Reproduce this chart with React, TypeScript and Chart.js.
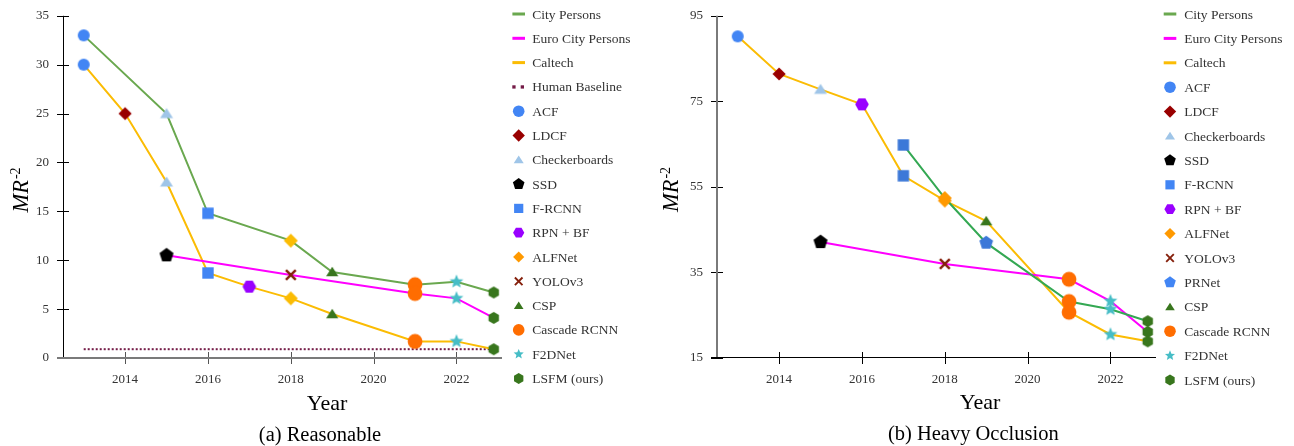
import React, { useEffect, useRef } from 'react';
import { Chart, registerables } from 'chart.js';

Chart.register(...registerables);

// ---------------- data ----------------
const yearTicks = [2014, 2016, 2018, 2020, 2022];

// (a) Reasonable
const aCityYears = [2013, 2015, 2016, 2018, 2019, 2021, 2022, 2022.9];
const aCityValues = [33, 25, 14.8, 12, 8.8, 7.5, 7.8, 6.7];
const aCityMethods = ['ACF', 'Checkerboards', 'F-RCNN', 'ALFNet', 'CSP', 'Cascade RCNN', 'F2DNet', 'LSFM (ours)'];

const aEuroYears = [2015, 2018, 2021, 2022, 2022.9];
const aEuroValues = [10.5, 8.5, 6.6, 6.1, 4.1];
const aEuroMethods = ['SSD', 'YOLOv3', 'Cascade RCNN', 'F2DNet', 'LSFM (ours)'];

const aCaltechYears = [2013, 2014, 2015, 2016, 2017, 2018, 2019, 2021, 2022, 2022.9];
const aCaltechValues = [30, 25, 18, 8.7, 7.3, 6.1, 4.5, 1.7, 1.7, 0.9];
const aCaltechMethods = ['ACF', 'LDCF', 'Checkerboards', 'F-RCNN', 'RPN + BF', 'ALFNet', 'CSP', 'Cascade RCNN', 'F2DNet', 'LSFM (ours)'];

const aHumanYears = [2013, 2023];
const aHumanValues = [0.9, 0.9];

const aMethods = ['ACF', 'LDCF', 'Checkerboards', 'SSD', 'F-RCNN', 'RPN + BF', 'ALFNet', 'YOLOv3', 'CSP', 'Cascade RCNN', 'F2DNet', 'LSFM (ours)'];
const aYMin = 0, aYMax = 35, aYStep = 5;

// (b) Heavy Occlusion
const bCityYears = [2017, 2018, 2019, 2021, 2022, 2022.9];
const bCityValues = [64.8, 52.4, 41.9, 28.2, 26.4, 23.6];
const bCityMethods = ['F-RCNN', 'ALFNet', 'PRNet', 'Cascade RCNN', 'F2DNet', 'LSFM (ours)'];

const bEuroYears = [2015, 2018, 2021, 2022, 2022.9];
const bEuroValues = [42.1, 37, 33.4, 28.3, 21.1];
const bEuroMethods = ['SSD', 'YOLOv3', 'Cascade RCNN', 'F2DNet', 'LSFM (ours)'];

const bCaltechYears = [2013, 2014, 2015, 2016, 2017, 2018, 2019, 2021, 2022, 2022.9];
const bCaltechValues = [90.2, 81.4, 77.8, 74.3, 57.6, 51.8, 47, 25.7, 20.5, 18.9];
const bCaltechMethods = ['ACF', 'LDCF', 'Checkerboards', 'RPN + BF', 'F-RCNN', 'ALFNet', 'CSP', 'Cascade RCNN', 'F2DNet', 'LSFM (ours)'];

const bMethods = ['ACF', 'LDCF', 'Checkerboards', 'SSD', 'F-RCNN', 'RPN + BF', 'ALFNet', 'YOLOv3', 'PRNet', 'CSP', 'Cascade RCNN', 'F2DNet', 'LSFM (ours)'];
const bYMin = 15, bYMax = 95, bYStep = 20;

// ---------------- styles ----------------
const SERIF = '"Liberation Serif", "Times New Roman", serif';

type Shape = 'circle' | 'diamond' | 'triangle' | 'pentagon' | 'square' | 'hexFlat' | 'hexPointy' | 'x' | 'star';

const MARKERS: Record<string, { shape: Shape; size: number; legendSize: number; colorA: string; colorB: string; legend: string }> = {
  'ACF': { shape: 'circle', size: 6, legendSize: 5.8, colorA: '#4285f4', colorB: '#4285f4', legend: '#4285f4' },
  'LDCF': { shape: 'diamond', size: 6.6, legendSize: 6.2, colorA: '#990000', colorB: '#990000', legend: '#990000' },
  'Checkerboards': { shape: 'triangle', size: 6.5, legendSize: 5, colorA: '#9fc5e8', colorB: '#9fc5e8', legend: '#9fc5e8' },
  'SSD': { shape: 'pentagon', size: 7.4, legendSize: 6.1, colorA: '#000000', colorB: '#000000', legend: '#000000' },
  'F-RCNN': { shape: 'square', size: 5.7, legendSize: 4.6, colorA: '#4285f4', colorB: '#3c78d8', legend: '#4285f4' },
  'RPN + BF': { shape: 'hexFlat', size: 6.8, legendSize: 5.6, colorA: '#9900ff', colorB: '#9900ff', legend: '#9900ff' },
  'ALFNet': { shape: 'diamond', size: 7, legendSize: 5.6, colorA: '#fbbc04', colorB: '#ff9900', legend: '#ff9900' },
  'YOLOv3': { shape: 'x', size: 4.9, legendSize: 3.8, colorA: '#85200c', colorB: '#85200c', legend: '#85200c' },
  'PRNet': { shape: 'pentagon', size: 7.2, legendSize: 6.1, colorA: '#3c78d8', colorB: '#3c78d8', legend: '#4285f4' },
  'CSP': { shape: 'triangle', size: 6.1, legendSize: 4.8, colorA: '#38761d', colorB: '#38761d', legend: '#38761d' },
  'Cascade RCNN': { shape: 'circle', size: 7.4, legendSize: 5.8, colorA: '#ff6d01', colorB: '#ff6d01', legend: '#ff6d01' },
  'F2DNet': { shape: 'star', size: 7.2, legendSize: 5.3, colorA: '#46bdc6', colorB: '#46bdc6', legend: '#46bdc6' },
  'LSFM (ours)': { shape: 'hexPointy', size: 6, legendSize: 5.4, colorA: '#38761d', colorB: '#38761d', legend: '#38761d' },
};

function drawShape(ctx: CanvasRenderingContext2D, shape: Shape, color: string, s: number, cx: number, cy: number) {
  ctx.save();
  ctx.fillStyle = color;
  ctx.strokeStyle = color;
  ctx.beginPath();
  const poly = (n: number, startDeg: number, r: number) => {
    for (let i = 0; i < n; i++) {
      const a = ((startDeg + (360 / n) * i) * Math.PI) / 180;
      const px = cx + r * Math.cos(a);
      const py = cy + r * Math.sin(a);
      if (i === 0) ctx.moveTo(px, py);
      else ctx.lineTo(px, py);
    }
    ctx.closePath();
    ctx.fill();
  };
  switch (shape) {
    case 'circle':
      ctx.arc(cx, cy, s, 0, Math.PI * 2);
      ctx.fill();
      break;
    case 'square':
      ctx.fillRect(cx - s, cy - s, 2 * s, 2 * s);
      break;
    case 'diamond':
      ctx.moveTo(cx, cy - s);
      ctx.lineTo(cx + s, cy);
      ctx.lineTo(cx, cy + s);
      ctx.lineTo(cx - s, cy);
      ctx.closePath();
      ctx.fill();
      break;
    case 'triangle':
      ctx.moveTo(cx, cy - 0.85 * s);
      ctx.lineTo(cx + s, cy + 0.7 * s);
      ctx.lineTo(cx - s, cy + 0.7 * s);
      ctx.closePath();
      ctx.fill();
      break;
    case 'pentagon':
      poly(5, -90, s);
      break;
    case 'hexFlat':
      poly(6, 0, s);
      break;
    case 'hexPointy':
      poly(6, -90, s);
      break;
    case 'star': {
      for (let i = 0; i < 10; i++) {
        const r = i % 2 === 0 ? s : s * 0.45;
        const a = ((-90 + 36 * i) * Math.PI) / 180;
        const px = cx + r * Math.cos(a);
        const py = cy + r * Math.sin(a);
        if (i === 0) ctx.moveTo(px, py);
        else ctx.lineTo(px, py);
      }
      ctx.closePath();
      ctx.fill();
      break;
    }
    case 'x':
      ctx.lineWidth = Math.max(1.6, s * 0.5);
      ctx.moveTo(cx - s, cy - s);
      ctx.lineTo(cx + s, cy + s);
      ctx.moveTo(cx + s, cy - s);
      ctx.lineTo(cx - s, cy + s);
      ctx.stroke();
      break;
  }
  ctx.restore();
}

function markerCanvas(shape: Shape, color: string, s: number): HTMLCanvasElement {
  const c = document.createElement('canvas');
  c.width = 28;
  c.height = 28;
  const ctx = c.getContext('2d') as CanvasRenderingContext2D;
  drawShape(ctx, shape, color, s, 14, 14);
  return c;
}

type Series = { label: string; years: number[]; values: number[]; methods?: string[]; color: string; legendColor: string; dash?: number[]; kind: 'line' | 'dots' };

type Panel = {
  key: 'A' | 'B';
  series: Series[];
  methods: string[];
  yMin: number; yMax: number; yStep: number;
  yWidth: number; padRight: number;
  axis: { yColor: string; yW: number; xColor: string; xW: number; yTick: string; xTick: string };
  yLabelX: number; yLabelCY: number;
  yearCX: number; yearY: number;
  caption: string; captionCX: number; captionY: number;
  legendMX: number; legendTX: number; legendY0: number; legendStep: number;
};

const panelA: Panel = {
  key: 'A',
  series: [
    { label: 'City Persons', years: aCityYears, values: aCityValues, methods: aCityMethods, color: '#6aa84f', legendColor: '#6aa84f', kind: 'line' },
    { label: 'Euro City Persons', years: aEuroYears, values: aEuroValues, methods: aEuroMethods, color: '#ff00ff', legendColor: '#ff00ff', kind: 'line' },
    { label: 'Caltech', years: aCaltechYears, values: aCaltechValues, methods: aCaltechMethods, color: '#fbbc04', legendColor: '#fbbc04', kind: 'line' },
    { label: 'Human Baseline', years: aHumanYears, values: aHumanValues, color: '#741b47', legendColor: '#741b47', dash: [2, 2], kind: 'dots' },
  ],
  methods: aMethods,
  yMin: aYMin, yMax: aYMax, yStep: aYStep,
  yWidth: 63, padRight: 145,
  axis: { yColor: '#000000', yW: 1, xColor: '#7a7a7a', xW: 2, yTick: '#000000', xTick: '#555555' },
  yLabelX: 28, yLabelCY: 190,
  yearCX: 327, yearY: 410,
  caption: '(a) Reasonable', captionCX: 320, captionY: 440.5,
  legendMX: 518.7, legendTX: 532.3, legendY0: 14, legendStep: 24.3,
};

const panelB: Panel = {
  key: 'B',
  series: [
    { label: 'City Persons', years: bCityYears, values: bCityValues, methods: bCityMethods, color: '#34a853', legendColor: '#6aa84f', kind: 'line' },
    { label: 'Euro City Persons', years: bEuroYears, values: bEuroValues, methods: bEuroMethods, color: '#ff00ff', legendColor: '#ff00ff', kind: 'line' },
    { label: 'Caltech', years: bCaltechYears, values: bCaltechValues, methods: bCaltechMethods, color: '#fbbc04', legendColor: '#fbbc04', kind: 'line' },
  ],
  methods: bMethods,
  yMin: bYMin, yMax: bYMax, yStep: bYStep,
  yWidth: 70, padRight: 138,
  axis: { yColor: '#7a7a7a', yW: 2, xColor: '#000000', xW: 1, yTick: '#000000', xTick: '#000000' },
  yLabelX: 31.3, yLabelCY: 189.5,
  yearCX: 333, yearY: 408.5,
  caption: '(b) Heavy Occlusion', captionCX: 326.3, captionY: 440,
  legendMX: 523, legendTX: 537.3, legendY0: 14, legendStep: 24.4,
};

function makePlugin(p: Panel) {
  return {
    id: 'decor' + p.key,
    beforeDatasetsDraw(chart: any) {
      const { ctx, chartArea } = chart;
      const { left, right, top, bottom } = chartArea;
      const xs = chart.scales.x;
      const ys = chart.scales.y;
      const a = p.axis;
      ctx.save();
      ctx.lineCap = 'butt';
      // tick marks crossing the axes
      ctx.strokeStyle = a.yTick;
      ctx.lineWidth = 1;
      ys.ticks.forEach((t: any) => {
        const py = Math.round(ys.getPixelForValue(t.value)) + 0.5;
        ctx.beginPath();
        ctx.moveTo(left - 6, py);
        ctx.lineTo(left + 6, py);
        ctx.stroke();
      });
      ctx.strokeStyle = a.xTick;
      xs.ticks.forEach((t: any) => {
        const px = Math.round(xs.getPixelForValue(t.value)) + 0.5;
        ctx.beginPath();
        ctx.moveTo(px, bottom - 6);
        ctx.lineTo(px, bottom + 6);
        ctx.stroke();
      });
      // y axis line
      ctx.strokeStyle = a.yColor;
      ctx.lineWidth = a.yW;
      const ax = a.yW % 2 ? Math.round(left) + 0.5 : Math.round(left);
      ctx.beginPath();
      ctx.moveTo(ax, top);
      ctx.lineTo(ax, bottom);
      ctx.stroke();
      // x axis line
      ctx.strokeStyle = a.xColor;
      ctx.lineWidth = a.xW;
      const ay = a.xW % 2 ? Math.round(bottom) - 0.5 : Math.round(bottom);
      ctx.beginPath();
      ctx.moveTo(left - 6, ay);
      ctx.lineTo(right, ay);
      ctx.stroke();
      ctx.restore();
    },
    afterDraw(chart: any) {
      const ctx: CanvasRenderingContext2D = chart.ctx;
      ctx.save();
      // y axis title  MR^-2
      ctx.translate(p.yLabelX, p.yLabelCY);
      ctx.rotate(-Math.PI / 2);
      ctx.fillStyle = '#000';
      ctx.textAlign = 'left';
      ctx.textBaseline = 'alphabetic';
      ctx.font = `italic 22.5px ${SERIF}`;
      const w1 = ctx.measureText('MR').width;
      ctx.font = `14px ${SERIF}`;
      const w2 = ctx.measureText('-2').width;
      const total = w1 + 1 + w2;
      ctx.font = `italic 22.5px ${SERIF}`;
      ctx.fillText('MR', -total / 2, 0);
      ctx.font = `14px ${SERIF}`;
      ctx.fillText('-2', -total / 2 + w1 + 1, -8);
      ctx.restore();

      ctx.save();
      ctx.fillStyle = '#000';
      ctx.textAlign = 'center';
      ctx.textBaseline = 'alphabetic';
      ctx.font = `22px ${SERIF}`;
      ctx.fillText('Year', p.yearCX, p.yearY);
      ctx.font = `20.5px ${SERIF}`;
      ctx.fillText(p.caption, p.captionCX, p.captionY);
      ctx.restore();

      // legend
      ctx.save();
      ctx.font = `13.5px ${SERIF}`;
      ctx.textAlign = 'left';
      ctx.textBaseline = 'alphabetic';
      let row = 0;
      const mx = p.legendMX;
      p.series.forEach((s) => {
        const y = p.legendY0 + row * p.legendStep;
        ctx.fillStyle = s.legendColor;
        if (s.kind === 'dots') {
          ctx.fillRect(mx - 6.4, y - 1.6, 3.3, 3.3);
          ctx.fillRect(mx + 2, y - 1.6, 3.3, 3.3);
        } else {
          ctx.fillRect(mx - 6.3, y - 1.5, 12.6, 3);
        }
        ctx.fillStyle = '#333';
        ctx.fillText(s.label, p.legendTX, y + 4.5);
        row++;
      });
      p.methods.forEach((m) => {
        const y = p.legendY0 + row * p.legendStep;
        const st = MARKERS[m];
        drawShape(ctx, st.shape, st.legend, st.legendSize, mx, y);
        ctx.fillStyle = '#333';
        ctx.fillText(m, p.legendTX, y + 4.5);
        row++;
      });
      ctx.restore();
    },
  };
}

function buildConfig(p: Panel): any {
  const datasets: any[] = [];
  p.series.forEach((s) => {
    datasets.push({
      label: s.label,
      data: s.years.map((x, i) => ({ x, y: s.values[i] })),
      borderColor: s.color,
      backgroundColor: s.color,
      borderWidth: 2,
      borderDash: s.dash || [],
      pointRadius: 0,
      tension: 0,
      fill: false,
      showLine: true,
      order: 10,
    });
  });
  p.methods.forEach((m) => {
    const st = MARKERS[m];
    const pts: { x: number; y: number }[] = [];
    p.series.forEach((s) => {
      if (!s.methods) return;
      s.methods.forEach((mm, i) => {
        if (mm === m) pts.push({ x: s.years[i], y: s.values[i] });
      });
    });
    datasets.push({
      label: m,
      data: pts,
      showLine: false,
      pointStyle: markerCanvas(st.shape, p.key === 'A' ? st.colorA : st.colorB, st.size),
      pointRadius: 6,
      pointBorderWidth: 0,
      order: 1,
    });
  });

  const tickFont = { family: SERIF, size: 13 };
  const hiddenGrid = { display: true, drawOnChartArea: false, drawTicks: true, tickLength: 6, tickColor: 'rgba(0,0,0,0)', color: 'rgba(0,0,0,0)' };

  return {
    type: 'line',
    data: { datasets },
    options: {
      responsive: false,
      animation: false,
      events: [],
      layout: { padding: { left: 0, right: p.padRight, top: 15, bottom: 0 } },
      plugins: { legend: { display: false }, tooltip: { enabled: false }, title: { display: false } },
      scales: {
        x: {
          type: 'linear',
          min: 2012.5,
          max: 2023.1,
          afterBuildTicks: (s: any) => {
            s.ticks = yearTicks.map((v) => ({ value: v }));
          },
          afterFit: (s: any) => {
            s.height = 88;
          },
          ticks: { callback: (v: any) => String(v), font: tickFont, color: '#333', padding: 8, maxRotation: 0, autoSkip: false },
          grid: hiddenGrid,
          border: { display: false },
        },
        y: {
          type: 'linear',
          min: p.yMin,
          max: p.yMax,
          afterFit: (s: any) => {
            s.width = p.yWidth;
          },
          ticks: { stepSize: p.yStep, font: tickFont, color: '#333', padding: 8 },
          grid: hiddenGrid,
          border: { display: false },
        },
      },
    },
    plugins: [makePlugin(p)],
  };
}

function PanelChart({ panel, left }: { panel: Panel; left: number }) {
  const ref = useRef<HTMLCanvasElement>(null);
  useEffect(() => {
    if (!ref.current) return;
    const chart = new Chart(ref.current, buildConfig(panel));
    return () => chart.destroy();
  }, [panel]);
  return (
    <div style={{ position: 'absolute', left, top: 0, width: 647, height: 446 }}>
      <canvas ref={ref} width={647} height={446} style={{ width: 647, height: 446, display: 'block' }} />
    </div>
  );
}

export default function App() {
  return (
    <div style={{ position: 'absolute', left: 0, top: 0, width: 1294, height: 446, background: '#fff', overflow: 'hidden' }}>
      <PanelChart panel={panelA} left={0} />
      <PanelChart panel={panelB} left={647} />
    </div>
  );
}
